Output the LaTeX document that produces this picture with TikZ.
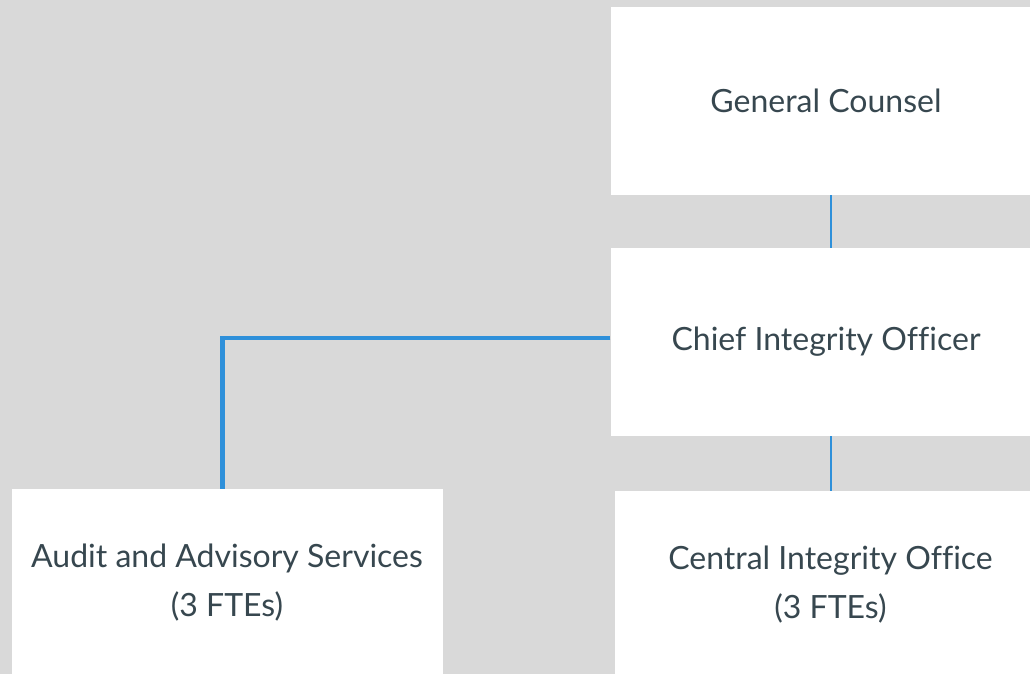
\documentclass[tikz,border=0pt]{standalone}
\usepackage{xcolor}
\usepackage{fontspec}
\usepackage{tikz}
\setmainfont{Lato}[Ligatures=CommonOff]

\definecolor{bggray}{HTML}{D9D9D9}
\definecolor{unittext}{HTML}{37474F}
\definecolor{linkblue}{HTML}{2E90DA}

\tikzset{
  unit/.style={fill=white, inner sep=0pt, minimum width=431pt, minimum height=188pt,
    align=center, text=unittext, font=\fontsize{32}{49}\selectfont},
  thinlink/.style={draw=linkblue, line width=2pt},
  thicklink/.style={draw=linkblue, line width=4.5pt}
}

\begin{document}
\begin{tikzpicture}[x=1pt,y=1pt,yscale=-1]
\clip (0,0) rectangle (1030,674);
\fill[bggray] (0,0) rectangle (1030,674);
\node[unit] (gc) at (826,101) {General Counsel};
\node[unit] (cio) at (826,342) {Chief Integrity Officer};
\node[unit] (aas) at (227,583) {Audit and Advisory Services\\(3 FTEs)};
\node[unit] (cin) at (830.5,585) {Central Integrity Office\\(3 FTEs)};
\draw[thinlink] (gc.south -| cin.north) -- (cio.north -| cin.north);
\draw[thinlink] (cio.south -| cin.north) -- (cin.north);
\draw[thicklink,line join=miter] ([yshift=-4pt]cio.west) -| ([xshift=-4.5pt]aas.north);
\end{tikzpicture}
\end{document}
